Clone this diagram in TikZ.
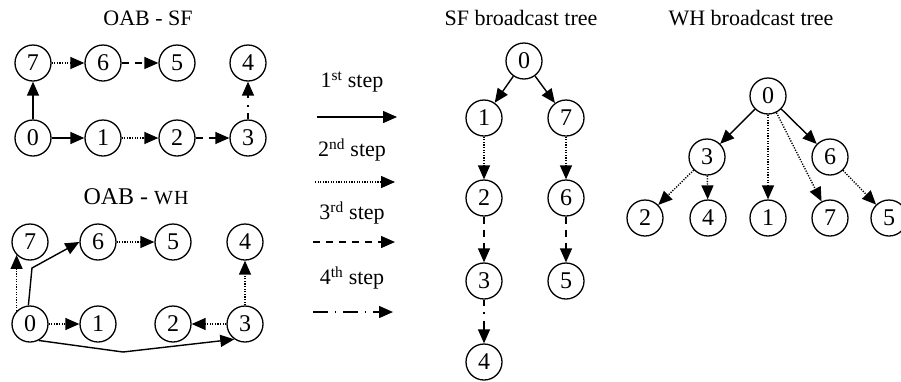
\documentclass[tikz,border=0pt]{standalone}
\usepackage{fontspec}
\setmainfont{Liberation Serif}
\usetikzlibrary{arrows.meta}

\begin{document}
\begin{tikzpicture}[x=1pt,y=-1pt,
  vtx/.style={circle,draw,line width=1.3pt,minimum size=36pt,inner sep=0pt,
    font=\fontsize{24}{24}\selectfont},
  lbl/.style={inner sep=0pt,font=\fontsize{22}{26}\selectfont},
  arr/.style={line width=1.4pt,-{Triangle[length=14pt,width=12pt]}},
  s1/.style={arr},
  s2/.style={arr,dash pattern=on 1.2pt off 1.4pt},
  s3/.style={arr,dash pattern=on 7pt off 6pt},
  s4/.style={arr,dash pattern=on 15pt off 6.5pt on 1.5pt off 7pt},
  s4short/.style={s4,dash phase=9pt},
]
\useasboundingbox (0,0) rectangle (901,381);

% ---------- OAB - SF ----------
\node[lbl] (tsf) at (148,18) {OAB - SF};
\node[vtx] (sf7) at (33,63) {7};
\node[vtx] (sf6) at (103,63) {6};
\node[vtx] (sf5) at (177,63) {5};
\node[vtx] (sf4) at (248,63) {4};
\node[vtx] (sf0) at (33,138) {0};
\node[vtx] (sf1) at (103,138) {1};
\node[vtx] (sf2) at (177,138) {2};
\node[vtx] (sf3) at (248,138) {3};
\draw[s1] (sf0) -- (sf7);
\draw[s1] (sf0) -- (sf1);
\draw[s2] (sf7) -- (sf6);
\draw[s2] (sf1) -- (sf2);
\draw[s3] (sf6) -- (sf5);
\draw[s3] (sf2) -- (sf3);
\draw[s4short] (sf3) -- (sf4);

% ---------- OAB - WH ----------
\node[lbl,font=\fontsize{24}{28}\selectfont] (twh) at (136,197)
  {OAB - {\fontsize{20}{24}\selectfont W\kern1pt H}};
\node[vtx] (wh7) at (30,242) {7};
\node[vtx] (wh6) at (98,242) {6};
\node[vtx] (wh5) at (173,242) {5};
\node[vtx] (wh4) at (245,242) {4};
\node[vtx] (wh0) at (30,324) {0};
\node[vtx] (wh1) at (98,324) {1};
\node[vtx] (wh2) at (173,324) {2};
\node[vtx] (wh3) at (245,324) {3};
\coordinate (bendA) at (32,268);
\coordinate (bendB) at (123,352);
\draw[s1] (wh0.95) -- (bendA) -- (wh6.west);
\draw[s1] (wh0.-62) -- (bendB) -- (wh3.235);
\draw[s2] (wh0.136) -- (wh7.224);
\draw[s2] (wh0) -- (wh1);
\draw[s2] (wh6) -- (wh5);
\draw[s2] (wh3) -- (wh2);
\draw[s2] (wh3) -- (wh4);

% ---------- legend ----------
\node[lbl] (k1) at (352,82) {1\textsuperscript{st} step};
\node[lbl] (k2) at (352,150) {2\textsuperscript{nd} step};
\node[lbl] (k3) at (352,213) {3\textsuperscript{rd} step};
\node[lbl] (k4) at (352,278) {4\textsuperscript{th} step};
\coordinate (a1) at (317,117); \coordinate (b1) at (397,117);
\coordinate (a2) at (315,182); \coordinate (b2) at (395,182);
\coordinate (a3) at (313,242); \coordinate (b3) at (395,242);
\coordinate (a4) at (313,312); \coordinate (b4) at (393,312);
\draw[s1] (a1) -- (b1);
\draw[s2] (a2) -- (b2);
\draw[s3] (a3) -- (b3);
\draw[s4] (a4) -- (b4);

% ---------- SF broadcast tree ----------
\node[lbl] (tst) at (521,18) {SF broadcast tree};
\node[vtx] (st0) at (524,61) {0};
\node[vtx] (st1) at (484,118) {1};
\node[vtx] (st7) at (566,118) {7};
\node[vtx] (st2) at (484,198) {2};
\node[vtx] (st6) at (566,198) {6};
\node[vtx] (st3) at (484,281) {3};
\node[vtx] (st5) at (566,281) {5};
\node[vtx] (st4) at (484,362) {4};
\draw[s1] (st0) -- (st1);
\draw[s1] (st0) -- (st7);
\draw[s2] (st1) -- (st2);
\draw[s2] (st7) -- (st6);
\draw[s3] (st2) -- (st3);
\draw[s3] (st6) -- (st5);
\draw[s4short] (st3) -- (st4);

% ---------- WH broadcast tree ----------
\node[lbl] (twt) at (751,18) {WH broadcast tree};
\node[vtx] (wt0) at (768,96) {0};
\node[vtx] (wt3) at (707,157) {3};
\node[vtx] (wt6) at (830,157) {6};
\node[vtx] (wt2) at (645,218) {2};
\node[vtx] (wt4) at (708,218) {4};
\node[vtx] (wt1) at (768,218) {1};
\node[vtx] (wt7) at (830,218) {7};
\node[vtx] (wt5) at (889,218) {5};
\draw[s1] (wt0) -- (wt3);
\draw[s1] (wt0) -- (wt6);
\draw[s2] (wt0) -- (wt1);
\draw[s2] (wt0) -- (wt7);
\draw[s2] (wt3) -- (wt2);
\draw[s2] (wt3) -- (wt4);
\draw[s2] (wt6) -- (wt5);
\end{tikzpicture}
\end{document}
